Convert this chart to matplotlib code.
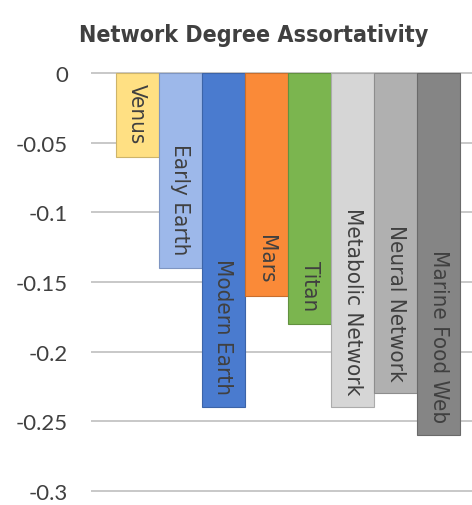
import matplotlib
matplotlib.use("Agg")
import matplotlib.pyplot as plt

categories = ["Venus", "Early Earth", "Modern Earth", "Mars", "Titan",
              "Metabolic Network", "Neural Network", "Marine Food Web"]
values = [-0.06, -0.14, -0.24, -0.16, -0.18, -0.24, -0.23, -0.26]
colors = ["#FFE083", "#9DB8EA", "#4A7BCF", "#FA8A38", "#7BB54F",
          "#D6D6D6", "#B0B0B0", "#858585"]
edges = ["#CDB46A", "#7E95C2", "#3C64A8", "#C86E2D", "#62913F",
         "#ABABAB", "#8D8D8D", "#6A6A6A"]
yticks = [0, -0.05, -0.1, -0.15, -0.2, -0.25, -0.3]
yticklabels = ["0", "-0.05", "-0.1", "-0.15", "-0.2", "-0.25", "-0.3"]
title = "Network Degree Assortativity"

W, H = 472, 506
fig = plt.figure(figsize=(W / 100, H / 100), dpi=100)
d = 0.002
top_px, bot_px = 74 - 2.8, 492 + 2.8
left_px, right_px = 91, 485
ax = fig.add_axes([left_px / W, 1 - bot_px / H, (right_px - left_px) / W,
                   (bot_px - top_px) / H])

x = list(range(len(categories)))
ax.bar(x, values, width=1.0, color=colors, edgecolor=edges, linewidth=0.8,
       zorder=3)
ax.set_xlim(-1.074, 8.074)
ax.set_ylim(-0.3 - d, 0 + d)

ax.set_yticks(yticks)
ax.set_yticklabels(yticklabels, fontfamily=["Lato", "DejaVu Sans"],
                   fontsize=16, color="#404040")
ax.tick_params(axis="y", length=0, pad=16.5)
ax.set_xticks([])
ax.grid(axis="y", color="#C8C8C8", linewidth=1.4, zorder=0)
for s in ax.spines.values():
    s.set_visible(False)

for xi, v, lab in zip(x, values, categories):
    ax.annotate(lab, (xi, v), xytext=(0, 9.5), textcoords="offset points",
                rotation=270, ha="center", va="bottom",
                fontfamily="DejaVu Sans", fontstretch="condensed",
                fontsize=16, color="#404040", zorder=4)

fig.text(254 / W, 1 - 42 / H, title, ha="center", va="baseline",
         fontfamily="DejaVu Sans", fontstretch="condensed",
         fontweight="bold", fontsize=16.7, color="#404040")

fig.savefig("out.png", dpi=100)
